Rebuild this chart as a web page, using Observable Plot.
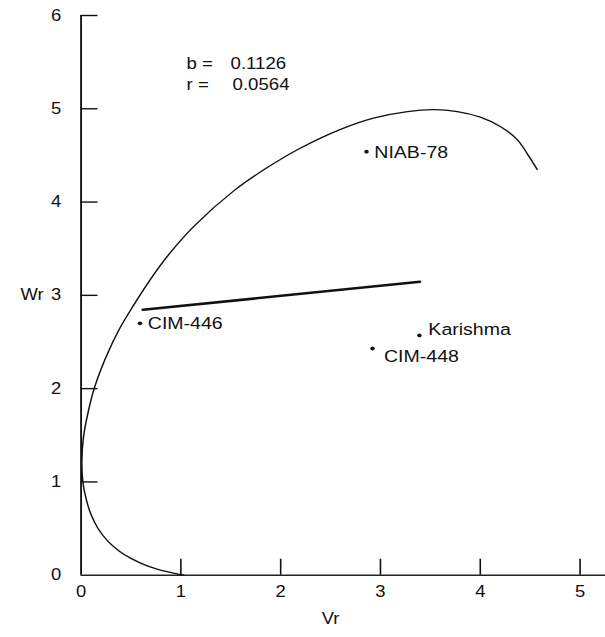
<!DOCTYPE html>
<html>
<head>
<meta charset="utf-8">
<script src="https://cdn.jsdelivr.net/npm/d3@7"></script>
<script src="https://cdn.jsdelivr.net/npm/@observablehq/plot@0.6"></script>
<style>
  html, body { margin: 0; padding: 0; background: #fff; }
  #chart svg { display: block; }
</style>
</head>
<body>
<div id="chart"></div>
<script>
// ---- data ----
const genotypes = ["NIAB-78", "CIM-446", "Karishma", "CIM-448"];
const genotypeVr = [2.86, 0.59, 3.39, 2.92];
const genotypeWr = [4.54, 2.70, 2.57, 2.43];

// limiting curve, as traced
const curveVr = [1.03, 0.85, 0.663, 0.50, 0.38, 0.263, 0.17, 0.10, 0.05, 0.017, 0.008, 0.024, 0.067, 0.134, 0.25, 0.384, 0.53, 0.70, 0.88, 1.13, 1.53, 1.866, 2.2, 2.6, 2.93, 3.27, 3.535, 3.77, 4.0, 4.2, 4.37, 4.47, 4.57];
const curveWr = [0.0, 0.04, 0.10, 0.18, 0.26, 0.37, 0.50, 0.65, 0.82, 1.01, 1.23, 1.48, 1.73, 2.01, 2.34, 2.64, 2.90, 3.18, 3.44, 3.74, 4.12, 4.37, 4.58, 4.78, 4.90, 4.97, 4.99, 4.97, 4.91, 4.81, 4.67, 4.52, 4.35];

// regression line Wr on Vr
const regressionVr = [0.62, 3.395];
const regressionWr = [2.845, 3.146];

const statLabels = ["b =", "r ="];
const statValues = ["0.1126", "0.0564"];

const xTicks = [0, 1, 2, 3, 4, 5];
const yTicks = [0, 1, 2, 3, 4, 5, 6];
const xTitle = "Vr";
const yTitle = "Wr";

// ---- layout ----
const SX = 1.15;                 // the scanned figure is stretched horizontally
const W = 605 / SX, H = 637;
const mL = 80.5 / SX, mR = 0, mT = 15, mB = 62.3;
const plotW = W - mL - mR, plotH = H - mT - mB;
const xMax = (605 - 80.5) / 99.8;
const font = "'Liberation Sans', Arial, Helvetica, sans-serif";
const ink = "#111";

const points = genotypes.map((g, i) => ({g, vr: genotypeVr[i], wr: genotypeWr[i]}));
const curve = curveVr.map((v, i) => ({vr: v, wr: curveWr[i]}));
const regression = regressionVr.map((v, i) => ({vr: v, wr: regressionWr[i]}));

const statMarks = statLabels.flatMap((lab, i) => [
  Plot.text([lab], {frameAnchor: "top-left", dx: (186 - 80.5) / SX, dy: 42.3 + i * 20.4, textAnchor: "start", fontSize: 16.2, fill: ink}),
  Plot.text([statValues[i]], {frameAnchor: "top-left", dx: (230 + i * 2 - 80.5) / SX, dy: 42.3 + i * 20.4, textAnchor: "start", fontSize: 16.2, fill: ink})
]);

const plot = Plot.plot({
  width: W,
  height: H,
  marginLeft: mL,
  marginRight: mR,
  marginTop: mT,
  marginBottom: mB,
  x: {domain: [0, xMax], axis: null},
  y: {domain: [0, 6], axis: null},
  style: {fontFamily: font, background: "#fff", color: ink},
  marks: [
    // axes
    Plot.ruleX([0], {y1: 0, y2: 6, stroke: ink, strokeWidth: 1.6}),
    Plot.ruleY([0], {x1: 0, x2: xMax, stroke: "#222", strokeWidth: 1.6}),
    Plot.tickX(xTicks.filter(d => d > 0), {x: d => d, insetTop: plotH - 16, stroke: ink, strokeWidth: 1.4}),
    Plot.tickY(yTicks.filter(d => d > 0), {y: d => d, insetRight: plotW - 17 / SX, stroke: ink, strokeWidth: 1.4}),
    Plot.text(xTicks, {x: d => d, text: d => String(d), frameAnchor: "bottom", dy: 21.5, fontSize: 16, fill: ink}),
    Plot.text(yTicks, {y: d => d, text: d => String(d), frameAnchor: "left", dx: -17.3, textAnchor: "end", fontSize: 16, fill: ink}),
    Plot.text([xTitle], {frameAnchor: "bottom", dx: (330 - (80.5 + 605) / 2) / SX, dy: 48.6, fontSize: 16, fill: ink}),
    Plot.text([yTitle], {frameAnchor: "left", dx: (20 - 80.5) / SX, fontSize: 16, fill: ink}),
    // limiting curve and regression
    Plot.line(curve, {x: "vr", y: "wr", curve: "catmull-rom", stroke: ink, strokeWidth: 1.3}),
    Plot.line(regression, {x: "vr", y: "wr", stroke: ink, strokeWidth: 2.6}),
    // genotypes
    Plot.dot(points, {x: "vr", y: "wr", r: 1.9, fill: ink, stroke: null}),
    Plot.text(points, {filter: d => d.g === "NIAB-78" || d.g === "CIM-446", x: "vr", y: "wr", text: "g", textAnchor: "start", dx: 6.8, dy: 0.5, fontSize: 17, fill: ink}),
    Plot.text(points, {filter: d => d.g === "Karishma", x: "vr", y: "wr", text: "g", textAnchor: "start", dx: 7.8, dy: -5.5, fontSize: 17, fill: ink}),
    Plot.text(points, {filter: d => d.g === "CIM-448", x: "vr", y: "wr", text: "g", textAnchor: "start", dx: 10, dy: 8.4, fontSize: 17, fill: ink}),
    // statistics
    ...statMarks
  ]
});

plot.setAttribute("width", 605);
plot.setAttribute("height", 637);
plot.setAttribute("preserveAspectRatio", "none");
plot.style.width = "605px";
plot.style.height = "637px";
plot.style.maxWidth = "none";
document.getElementById("chart").appendChild(plot);
</script>
</body>
</html>
